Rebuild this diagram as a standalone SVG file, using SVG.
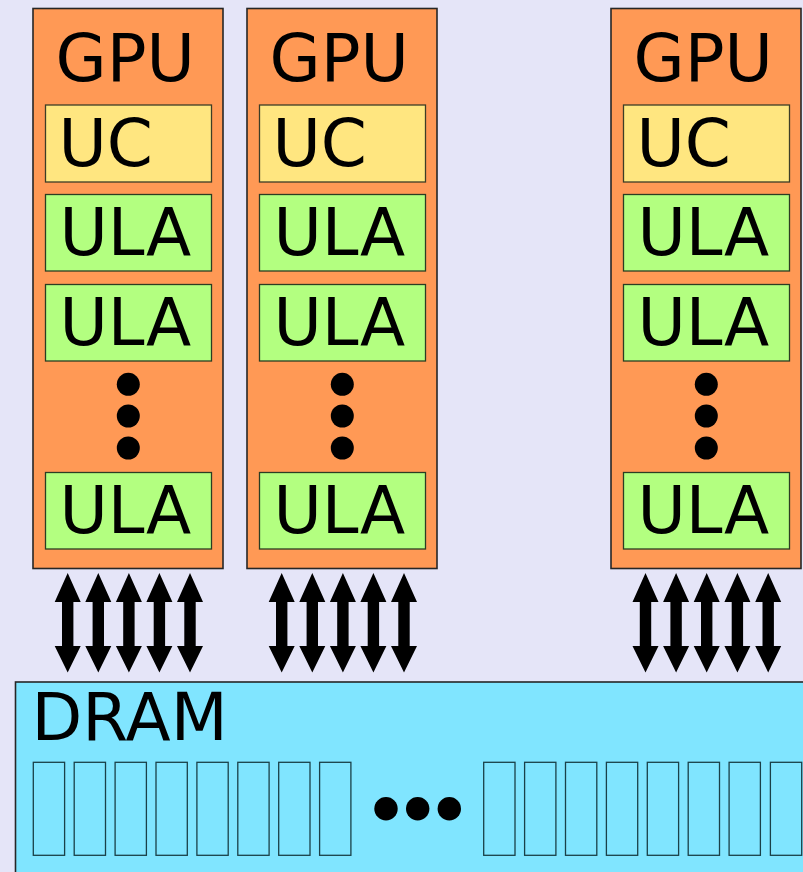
<svg xmlns="http://www.w3.org/2000/svg" xmlns:xlink="http://www.w3.org/1999/xlink" width="803" height="872" viewBox="0 0 803 872">
<style>
.gpu{fill:#ff9955;stroke:#262626;stroke-width:1.6}
.uc{fill:#ffe680;stroke:#3d3d26;stroke-width:1.3}
.ula{fill:#b3ff80;stroke:#2b3d22;stroke-width:1.3}
.dram{fill:#80e5ff;stroke:#262626;stroke-width:1.6}
.cell{fill:#80e5ff;stroke:#1a4048;stroke-width:1.3}
.t{font-family:"DejaVu Sans",sans-serif;font-size:66px;fill:#000}
.dot{fill:#000}
.arr{fill:#000}
</style>
<defs>
<path id="arrow" class="arr" d="M0,573 L13,602 L5.7,602 L5.7,646 L13,646 L0,672.5 L-13,646 L-5.7,646 L-5.7,602 L-13,602 Z"/>
<g id="gpucol">
<rect class="gpu" x="33" y="8.5" width="190" height="560"/>
<text class="t" x="55.5" y="81">GPU</text>
<rect class="uc" x="45.5" y="105" width="166" height="77"/>
<text class="t" x="58.5" y="166">UC</text>
<rect class="ula" x="45.5" y="194.5" width="166" height="76.5"/>
<text class="t" x="59.5" y="255">ULA</text>
<rect class="ula" x="45.5" y="284.5" width="166" height="76.5"/>
<text class="t" x="59.5" y="345">ULA</text>
<circle class="dot" cx="128.3" cy="384.3" r="11.5"/>
<circle class="dot" cx="128.3" cy="416" r="11.5"/>
<circle class="dot" cx="128.3" cy="448" r="11.5"/>
<rect class="ula" x="45.5" y="472.5" width="166" height="76.5"/>
<text class="t" x="59.5" y="533">ULA</text>
</g>
</defs>
<rect x="0" y="0" width="803" height="872" fill="#e5e5f8"/>
<g id="gpu1"><use xlink:href="#gpucol"/></g>
<g id="gpu2"><use xlink:href="#gpucol" transform="translate(214,0)"/></g>
<g id="gpu3"><use xlink:href="#gpucol" transform="translate(578,0)"/></g>
<g id="dram">
<rect class="dram" x="15.5" y="682" width="800" height="200"/>
<text class="t" x="31.5" y="740">DRAM</text>
<rect class="cell" x="33.3" y="762.3" width="31.3" height="93"/>
<rect class="cell" x="74.2" y="762.3" width="31.3" height="93"/>
<rect class="cell" x="115.1" y="762.3" width="31.3" height="93"/>
<rect class="cell" x="156" y="762.3" width="31.3" height="93"/>
<rect class="cell" x="196.9" y="762.3" width="31.3" height="93"/>
<rect class="cell" x="237.8" y="762.3" width="31.3" height="93"/>
<rect class="cell" x="278.7" y="762.3" width="31.3" height="93"/>
<rect class="cell" x="319.6" y="762.3" width="31.3" height="93"/>
<circle class="dot" cx="386" cy="808.7" r="11.7"/>
<circle class="dot" cx="417.7" cy="808.7" r="11.7"/>
<circle class="dot" cx="449.3" cy="808.7" r="11.7"/>
<rect class="cell" x="483.7" y="762.3" width="31.3" height="93"/>
<rect class="cell" x="524.6" y="762.3" width="31.3" height="93"/>
<rect class="cell" x="565.5" y="762.3" width="31.3" height="93"/>
<rect class="cell" x="606.4" y="762.3" width="31.3" height="93"/>
<rect class="cell" x="647.3" y="762.3" width="31.3" height="93"/>
<rect class="cell" x="688.2" y="762.3" width="31.3" height="93"/>
<rect class="cell" x="729.1" y="762.3" width="31.3" height="93"/>
<rect class="cell" x="770.4" y="762.3" width="31.3" height="93"/>
</g>
<g id="connectors">
<use xlink:href="#arrow" x="67.7"/>
<use xlink:href="#arrow" x="98.3"/>
<use xlink:href="#arrow" x="128.9"/>
<use xlink:href="#arrow" x="159.4"/>
<use xlink:href="#arrow" x="190"/>
<use xlink:href="#arrow" x="281.7"/>
<use xlink:href="#arrow" x="312.3"/>
<use xlink:href="#arrow" x="342.9"/>
<use xlink:href="#arrow" x="373.4"/>
<use xlink:href="#arrow" x="404"/>
<use xlink:href="#arrow" x="645.5"/>
<use xlink:href="#arrow" x="676.1"/>
<use xlink:href="#arrow" x="706.7"/>
<use xlink:href="#arrow" x="737.4"/>
<use xlink:href="#arrow" x="768.2"/>
</g>
</svg>
